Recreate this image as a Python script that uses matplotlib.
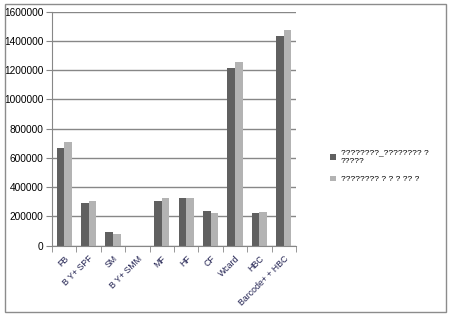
import numpy as np
import matplotlib
matplotlib.use('Agg')
import matplotlib.pyplot as plt
from matplotlib.patches import Rectangle

# данные
categories = ['FB', 'B Y+ SPF', 'SM', 'B Y+ SMM', 'MF', 'HF', 'CF',
              'Wcard', 'HBC', 'Barcode+ + HBC']
series1 = [670000, 292000, 95000, 0, 305000, 325000, 237000, 1215000, 224000, 1434000]
series2 = [712000, 305000, 80000, 0, 325000, 325000, 224000, 1255000, 230000, 1475000]
legend_labels = ['????????_???????? ?\n?????', '???????? ? ? ? ?? ?']
yticks = np.arange(0, 1600001, 200000)

plt.rcParams['font.family'] = ['Liberation Sans', 'DejaVu Sans']

fig = plt.figure(figsize=(4.5, 3.16), dpi=100)
ax = fig.add_axes([0.1156, 0.2225, 0.5420, 0.7405])

# рамка вокруг всей диаграммы
fig.patches.append(Rectangle((4.5 / 450, 4 / 316), 441 / 450, 308 / 316,
                             transform=fig.transFigure, fill=False,
                             edgecolor='#8c8c8c', linewidth=1))

x = np.arange(len(categories))
w = 0.31
b1 = ax.bar(x - w / 2, series1, w, color='#606060', label=legend_labels[0])
b2 = ax.bar(x + w / 2, series2, w, color='#b3b3b3', label=legend_labels[1])

ax.set_xlim(-0.5, len(categories) - 0.5)
ax.set_ylim(0, 1600000)
ax.set_yticks(yticks)
ax.set_yticklabels([str(v) for v in yticks], fontsize=7.3)
ax.yaxis.grid(True, color='#878787', linewidth=1)
ax.set_axisbelow(True)

ax.set_xticks(x)
ax.set_xticklabels(categories, rotation=45, ha='right', va='top',
                   rotation_mode='anchor', fontsize=6.3, color='#202050')
ax.set_xticks(np.arange(-0.5, len(categories), 1), minor=True)
ax.tick_params(axis='x', which='major', length=0, pad=6)
ax.tick_params(axis='x', which='minor', length=4, color='#878787')
ax.tick_params(axis='y', length=4, color='#878787', pad=2)

for s in ['top', 'right']:
    ax.spines[s].set_visible(False)
for s in ['left', 'bottom']:
    ax.spines[s].set_color('#878787')

fig.legend(handles=[b1, b2], loc='upper left', bbox_to_anchor=(0.716, 0.55),
           frameon=False, fontsize=6, handlelength=0.7, handleheight=0.7,
           handletextpad=0.6, labelspacing=1.3)

fig.savefig('out.png', dpi=100)
